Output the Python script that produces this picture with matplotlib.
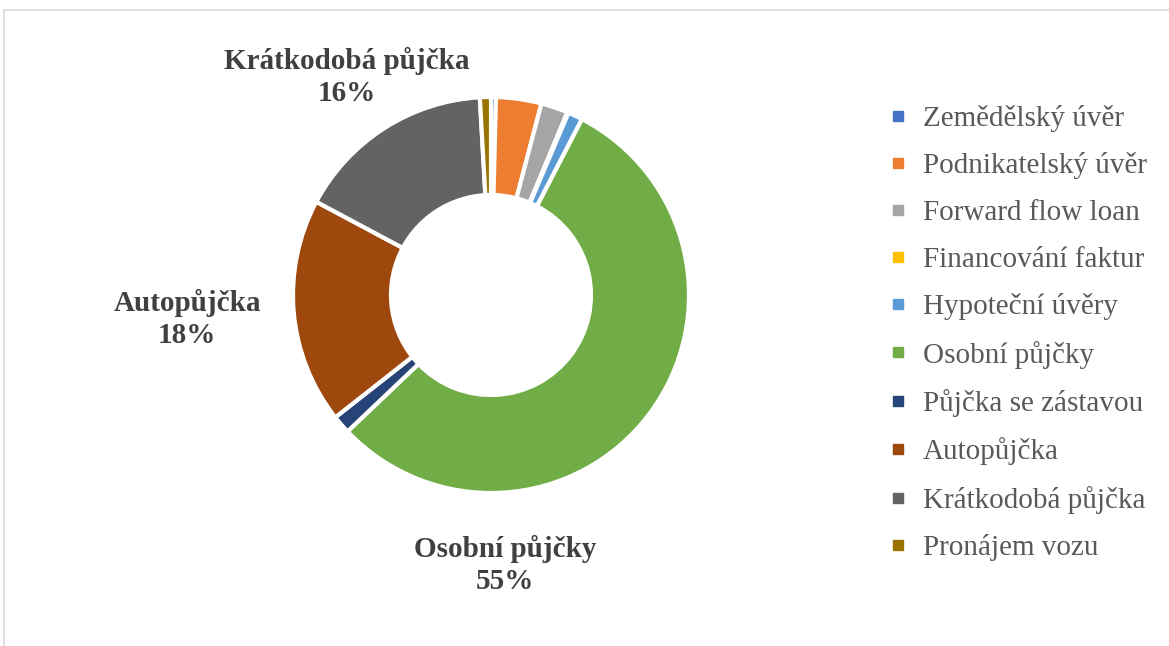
import matplotlib.pyplot as plt
from matplotlib.lines import Line2D
from matplotlib.patches import Rectangle

categories = ["Zemědělský úvěr", "Podnikatelský úvěr", "Forward flow loan",
              "Financování faktur", "Hypoteční úvěry", "Osobní půjčky",
              "Půjčka se zástavou", "Autopůjčka", "Krátkodobá půjčka",
              "Pronájem vozu"]
shares = [0.4, 3.7, 2.2, 0.1, 1.2, 55.3, 1.5, 18.4, 16.3, 0.9]
colors = ["#4472C4", "#ED7D31", "#A5A5A5", "#FFC000", "#5B9BD5",
          "#70AD47", "#264478", "#9E480E", "#636363", "#997300"]

# labelled slices and where the label sits (data units, radius 1 = outer edge)
label_pos = {
    "Krátkodobá půjčka": (-0.72, 1.09),
    "Autopůjčka": (-1.52, -0.12),
    "Osobní půjčky": (0.07, -1.35),
}

plt.rcParams["font.family"] = ["Liberation Serif", "DejaVu Serif"]

W, H = 1169, 646
fig = plt.figure(figsize=(W / 100, H / 100), dpi=100)

# outer frame (only top/left visible)
fig.patches.append(Rectangle((4 / W, -0.1), 1.2, 1.1 - 10 / H,
                             transform=fig.transFigure, fill=False,
                             edgecolor="#D9D9D9", linewidth=1.2))

cx, cy, size = 491, H - 295, 500
ax = fig.add_axes([(cx - size / 2) / W, (cy - size / 2) / H, size / W, size / H])
wedges, _ = ax.pie(shares, colors=colors, startangle=90, counterclock=False,
                   radius=0.99, wedgeprops=dict(width=0.49, edgecolor="white",
                                                linewidth=3))
ax.set_xlim(-1.25, 1.25)
ax.set_ylim(-1.25, 1.25)
ax.set_aspect("equal")
ax.axis("off")

total = sum(shares)
for name, (x, y) in label_pos.items():
    pct = shares[categories.index(name)] / total * 100
    ax.text(x, y, f"{name}\n{pct:.0f}%", ha="center", va="center",
            fontsize=21, fontweight="bold", color="#404040",
            linespacing=1.2, clip_on=False)

handles = [Line2D([], [], marker="s", linestyle="", markersize=7,
                  markerfacecolor=c, markeredgecolor=c) for c in colors]
fig.legend(handles, categories, loc="center left",
           bbox_to_anchor=(876 / W, (H - 333) / H), frameon=False,
           fontsize=21, labelcolor="#595959", labelspacing=0.70,
           handlelength=0.7, handletextpad=0.5, borderaxespad=0)

fig.savefig("out.png", dpi=100)
